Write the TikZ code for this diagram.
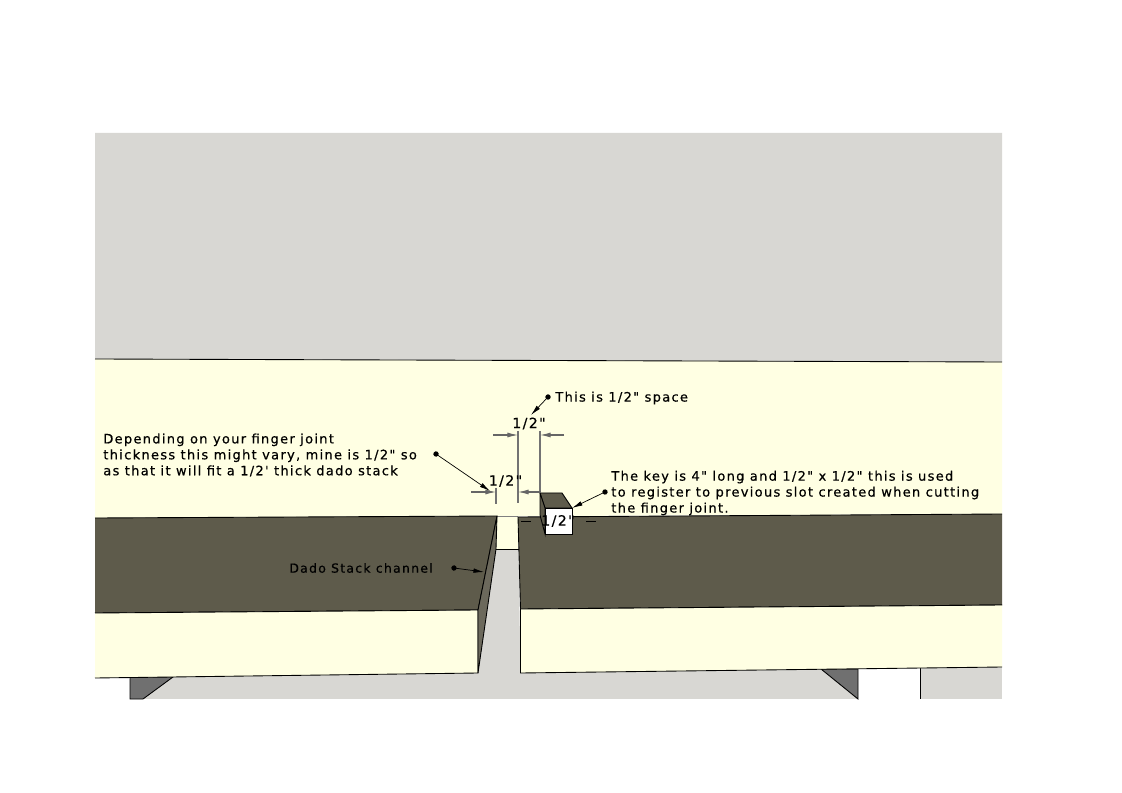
\documentclass[tikz,border=0pt]{standalone}
\usepackage{fontspec}
\setmainfont{DejaVu Sans}[Ligatures=TeXOff,LetterSpace=10,FakeBold=0.5]
\usetikzlibrary{arrows.meta}
\definecolor{wallgray}{HTML}{D8D7D3}
\definecolor{woodyellow}{HTML}{FFFFE3}
\definecolor{stockdark}{HTML}{5E5B4B}
\definecolor{sidedark}{HTML}{6C695C}
\definecolor{wedgegray}{HTML}{707070}
\tikzset{
  outline/.style={draw=black,line width=0.5pt},
  notetext/.style={anchor=west,inner sep=0pt,align=left,font=\fontsize{7.4pt}{9.07pt}\selectfont},
  dadotext/.style={notetext,font=\fontsize{7.1pt}{9.07pt}\selectfont},
  dimtext/.style={inner sep=0pt,font=\fontsize{8pt}{9.07pt}\selectfont},
  leader/.style={{Circle[length=3pt]}-{Latex[length=6pt,width=2.6pt]},line width=0.4pt,shorten <=-1.5pt},
  extline/.style={draw=black!55,line width=0.8pt},
  dimarrow/.style={-{Latex[length=6pt,width=2.8pt]},draw=black!60,line width=0.6pt}
}
\begin{document}
\begin{tikzpicture}[x=0.02cm,y=-0.02cm]
\useasboundingbox (0,0) rectangle (1122,793);
%%%% Add the back and base faces
    \fill[wallgray] (95,133) -- (1002,133) -- (1002,362) -- (95,359) -- cycle;
    \fill[woodyellow] (95,359) -- (1002,362) -- (1002,514) -- (95,518) -- cycle;
    \draw[outline] (95,359) -- (1002,362);
    \fill[wallgray] (130,665) rectangle (858,699);
    \fill[wallgray] (920,665) rectangle (1002,699);
    \fill[wedgegray,outline] (130,699) -- (130,677) -- (173,677) -- (143,699) -- cycle;
    \fill[wedgegray,outline] (821,669) -- (858,669) -- (858,699) -- cycle;
    \draw[outline] (920,668) -- (920,699);
%%%% Add the channel
    \fill[woodyellow] (496,516) rectangle (518,549);
    \fill[wallgray] (496,549) -- (518.5,549) -- (520.5,673) -- (478,673) -- cycle;
    \draw[outline] (496,549) -- (518.5,549);
    \draw[draw=black!50,line width=0.5pt] (496,516) -- (518,516);
%%%% Add the left board
    \fill[stockdark,outline] (95,518) -- (497,516) -- (478,610) -- (95,613);
    \fill[woodyellow,outline] (95,678) -- (478,673) -- (478,610) -- (95,613);
    \fill[sidedark,outline] (497,516) -- (478,610) -- (478,673) -- (496,549) -- cycle;
%%%% Add the right board
    \fill[stockdark,outline] (1002,514) -- (518,517) -- (520.5,609) -- (1002,605);
    \fill[woodyellow,outline] (1002,605) -- (520.5,609) -- (520.5,673) -- (1002,667);
%%%% Add the key
    \fill[stockdark,outline] (540,493) -- (562,493) -- (572,508) -- (545,508) -- cycle;
    \fill[stockdark,outline] (540,493) -- (545,508) -- (545,534) -- (540,515) -- cycle;
    \fill[white,outline] (545,508) rectangle (572,534);
%%%% Add dimension lines
    \coordinate (slotleft) at (496,488);
    \coordinate (slotleftend) at (496,504);
    \coordinate (slotright) at (518,431);
    \coordinate (slotrightend) at (518,503);
    \coordinate (keyleft) at (540,431);
    \coordinate (keyleftend) at (540,493);
    \draw[extline] (slotleft) -- (slotleftend);
    \draw[extline] (slotright) -- (slotrightend);
    \draw[extline] (keyleft) -- (keyleftend);
    \coordinate (topa) at (493,435);
    \coordinate (topb) at (518,435);
    \coordinate (topc) at (564,435);
    \coordinate (topd) at (540,435);
    \coordinate (lowa) at (471,492);
    \coordinate (lowb) at (496,492);
    \coordinate (lowc) at (541,492);
    \coordinate (lowd) at (518,492);
    \draw[dimarrow] (topa) -- (topb);
    \draw[dimarrow] (topc) -- (topd);
    \draw[dimarrow] (lowa) -- (lowb);
    \draw[dimarrow] (lowc) -- (lowd);
    \coordinate (dasha) at (521,521);
    \coordinate (dashb) at (531,521);
    \coordinate (dashc) at (586,521);
    \coordinate (dashd) at (596,521);
    \draw[outline] (dasha) -- (dashb);
    \draw[outline] (dashc) -- (dashd);
%%%% Add labels
    \node[dimtext] (dimtop) at (529,423.5) {1/2"};
    \node[dimtext] (dimlow) at (505.5,481) {1/2"};
    \node[dimtext] (dimkey) at (558,521) {1/2"};
    \node[notetext] (spacenote) at (555,398) {This is 1/2" space};
    \node[notetext] (depthnote) at (103,455) {Depending on your finger joint\\thickness this might vary, mine is 1/2" so\\as that it will fit a 1/2' thick dado stack};
    \node[notetext] (keynote) at (611,493) {The key is 4" long and 1/2" x 1/2" this is used\\to register to previous slot created when cutting\\the finger joint.};
    \node[dadotext] (dadonote) at (289,568) {Dado Stack channel};
%%%% Add leaders from notes
    \coordinate (spacedot) at (548,397);
    \coordinate (depthdot) at (436,454);
    \coordinate (depthtip) at (490,491);
    \coordinate (keydot) at (605,492);
    \coordinate (keytip) at (572,508);
    \coordinate (dadodot) at (454,568);
    \coordinate (dadotip) at (484,572);
    \coordinate (spacetip) at (531,415);
    \draw[leader] (spacedot) -- (spacetip);
    \draw[leader] (depthdot) -- (depthtip);
    \draw[leader] (keydot) -- (keytip);
    \draw[leader] (dadodot) -- (dadotip);
\end{tikzpicture}
\end{document}
